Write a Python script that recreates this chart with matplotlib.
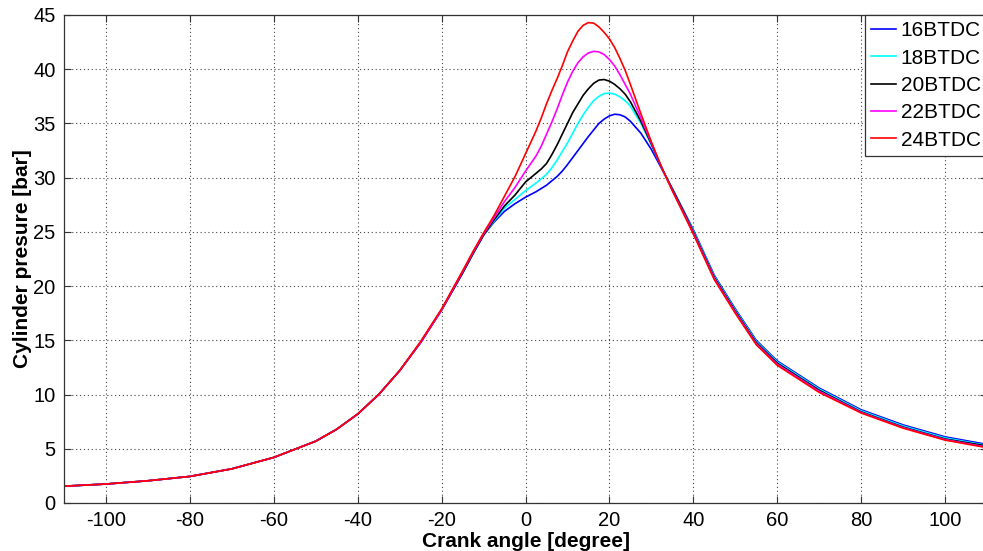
import matplotlib
matplotlib.use('Agg')
import matplotlib.pyplot as plt

# Crank angle [degree]
crank_angle = [-110, -100, -90, -80, -70, -60, -50, -45, -40, -35, -30, -25, -20, -15,
               -12.5, -10, -7.5, -5, -2.5, 0, 2.5, 3.75, 5, 6.25, 7.5, 8.75, 10, 11.25,
               12.5, 13.75, 15, 16.25, 17.5, 18.75, 20, 21.25, 22.5, 23.75, 25, 27.5,
               30, 32.5, 35, 37.5, 40, 45, 50, 55, 60, 70, 80, 90, 100, 110]

# Cylinder pressure [bar] for each injection timing
p_16btdc = [1.55, 1.75, 2.05, 2.45, 3.15, 4.2, 5.7, 6.8, 8.2, 10.0, 12.2, 14.8, 17.8, 21.2,
            23.0, 24.7, 25.9, 26.9, 27.6, 28.2, 28.7, 29.0, 29.3, 29.7, 30.1, 30.6, 31.2, 31.85,
            32.5, 33.15, 33.8, 34.4, 35.0, 35.4, 35.7, 35.85, 35.8, 35.6, 35.2, 34.1,
            32.6, 30.8, 29.0, 27.1, 25.2, 21.0, 17.9, 15.0, 13.1, 10.6, 8.6, 7.2, 6.1, 5.4]
p_18btdc = [1.55, 1.75, 2.05, 2.45, 3.15, 4.2, 5.7, 6.8, 8.2, 10.0, 12.2, 14.8, 17.8, 21.2,
            23.0, 24.7, 26.0, 27.2, 28.0, 28.8, 29.5, 29.9, 30.3, 30.9, 31.6, 32.4, 33.2, 34.1,
            35.0, 35.8, 36.5, 37.1, 37.5, 37.75, 37.8, 37.7, 37.45, 37.1, 36.6, 35.0,
            33.0, 30.9, 28.9, 27.0, 25.1, 20.9, 17.8, 14.9, 13.0, 10.5, 8.5, 7.1, 6.0, 5.3]
p_20btdc = [1.55, 1.75, 2.05, 2.45, 3.15, 4.2, 5.7, 6.8, 8.2, 10.0, 12.2, 14.8, 17.8, 21.2,
            23.0, 24.7, 26.1, 27.4, 28.4, 29.6, 30.4, 30.8, 31.3, 32.1, 33.0, 34.0, 35.0, 36.0,
            36.8, 37.6, 38.2, 38.7, 39.0, 39.05, 38.9, 38.6, 38.2, 37.7, 37.0, 35.2,
            33.1, 30.9, 28.9, 27.0, 25.0, 20.8, 17.7, 14.8, 12.9, 10.4, 8.4, 7.0, 5.9, 5.25]
p_22btdc = [1.55, 1.75, 2.05, 2.45, 3.15, 4.2, 5.7, 6.8, 8.2, 10.0, 12.2, 14.8, 17.8, 21.3,
            23.1, 24.8, 26.3, 27.8, 29.1, 30.6, 32.0, 32.9, 34.0, 35.1, 36.3, 37.6, 38.8, 39.8,
            40.6, 41.15, 41.5, 41.65, 41.6, 41.35, 40.9, 40.3, 39.5, 38.6, 37.7, 35.5,
            33.2, 30.9, 28.8, 26.9, 24.9, 20.7, 17.6, 14.7, 12.8, 10.3, 8.35, 6.95, 5.85, 5.15]
p_24btdc = [1.55, 1.75, 2.05, 2.45, 3.15, 4.2, 5.7, 6.8, 8.2, 10.0, 12.2, 14.9, 17.9, 21.4,
            23.2, 24.9, 26.5, 28.3, 30.1, 32.2, 34.3, 35.5, 36.8, 38.0, 39.1, 40.3, 41.6, 42.6,
            43.5, 44.05, 44.3, 44.25, 43.9, 43.4, 42.8, 42.0, 41.0, 39.9, 38.6, 35.9,
            33.3, 30.9, 28.8, 26.8, 24.8, 20.6, 17.5, 14.6, 12.7, 10.2, 8.3, 6.9, 5.8, 5.1]

labels = ['16BTDC', '18BTDC', '20BTDC', '22BTDC', '24BTDC']
colors = ['#0000ff', '#00ffff', '#000000', '#ff00ff', '#ff0000']
series = [p_16btdc, p_18btdc, p_20btdc, p_22btdc, p_24btdc]

plt.rcParams['font.family'] = ['Liberation Sans', 'DejaVu Sans']
plt.rcParams['axes.unicode_minus'] = False

fig = plt.figure(figsize=(9.83, 5.51), dpi=100)
ax = fig.add_axes([64 / 983, 48 / 551, 923 / 983, 488 / 551])

for y, c, lab in zip(series, colors, labels):
    ax.plot(crank_angle, y, color=c, lw=1.2, label=lab)

ax.set_xlim(-110, 110)
ax.set_ylim(0, 45)
ax.set_xticks(range(-100, 101, 20))
ax.set_yticks(range(0, 46, 5))
ax.tick_params(direction='in', length=5, labelsize=14.5, top=True, right=True,
               color='#333333', pad=6)
for s in ax.spines.values():
    s.set_color('#333333')
    s.set_linewidth(0.9)
ax.grid(True, color='#444444', linestyle=(0, (1, 2.5)), linewidth=0.8)

ax.set_xlabel('Crank angle [degree]', fontsize=15, fontweight='bold', labelpad=1)
ax.set_ylabel('Cylinder presure [bar]', fontsize=15, fontweight='bold', labelpad=1)

leg = ax.legend(loc='upper right', fontsize=15, fancybox=False, framealpha=1,
                edgecolor='#333333', borderaxespad=0, borderpad=0.3,
                handlelength=1.2, handletextpad=0.2, labelspacing=0.4)
leg.get_frame().set_linewidth(0.9)

fig.savefig('out.png', dpi=100)
